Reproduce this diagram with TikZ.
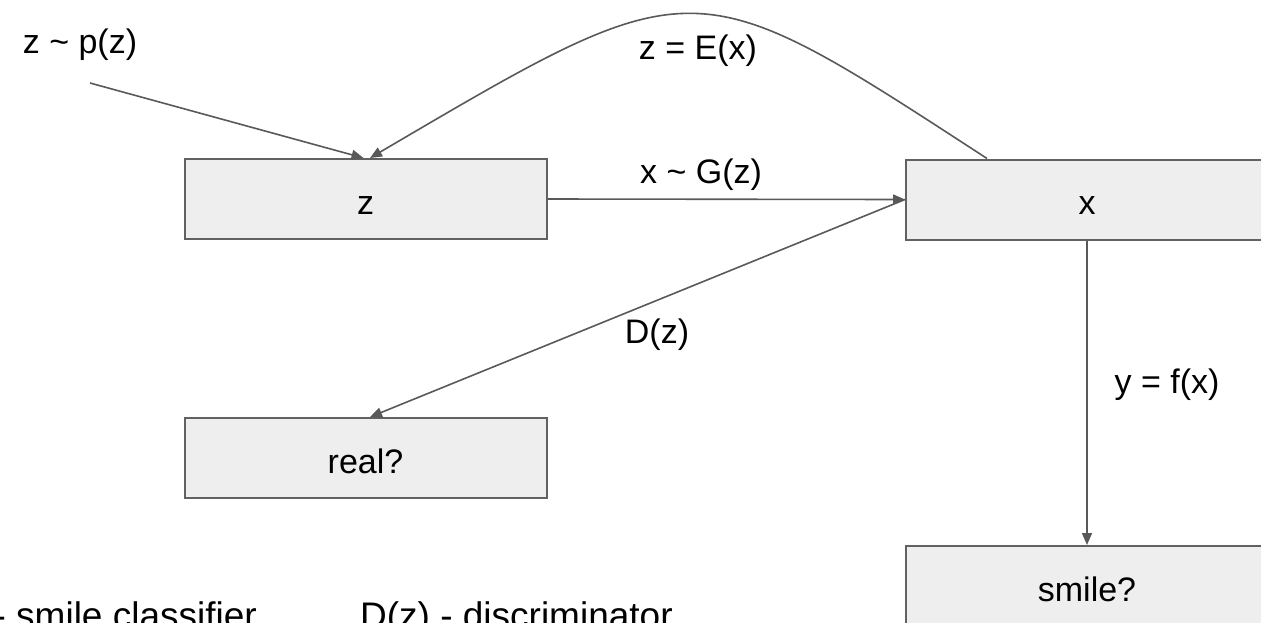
\documentclass[tikz,border=0pt]{standalone}
\usepackage{fontspec}
\setmainfont{Liberation Sans}
\usetikzlibrary{arrows.meta}
\definecolor{boxfill}{HTML}{EEEEEE}
\definecolor{boxline}{HTML}{616161}
\definecolor{wire}{HTML}{595959}
\newcommand\biglabel{\fontsize{34}{40}\selectfont}
\newcommand\notelabel{\fontsize{37}{44}\selectfont}
\begin{document}
\begin{tikzpicture}[x=1pt,y=-1pt,
  box/.style={draw=boxline, line width=2pt, fill=boxfill,
    minimum width=362pt, minimum height=80pt, inner sep=0pt,
    text height=30pt, text depth=0pt, font=\biglabel},
  lbl/.style={inner sep=0pt, anchor=base, font=\biglabel},
  note/.style={inner sep=0pt, font=\notelabel},
  link/.style={draw=wire, line width=1.6pt, -{Triangle[length=12pt,width=10pt]}}
]
\useasboundingbox (0,0) rectangle (1261,622);
\clip (0,0) rectangle (1261,622);

% boxes
\node[box] (zb) at (365.5,199) {z};
\node[box] (xb) at (1087,199.5) {x};
\node[box] (rb) at (365.5,458) {real?};
\node[box] (sb) at (1087,586) {smile?};

% labels
\node[lbl] (pz) at (80,53) {z \textasciitilde{} p(z)};
\node[lbl] (ex) at (698,59) {z = E(x)};
\node[lbl] (gz) at (701,183) {x \textasciitilde{} G(z)};
\node[lbl] (dz) at (657,343) {D(z)};
\node[lbl] (fx) at (1167,393) {y = f(x)};

% legend along the lower edge
\node[note, anchor=base east] (fnote) at (257,628) {- smile classifier};
\node[note, anchor=base west] (dnote) at (360,628) {D(z) - discriminator};

% connectors
\coordinate (pzstart) at (90,83);
\draw[link] (pzstart) -- ([xshift=-2pt]zb.north);
\draw[link] ([xshift=82pt]xb.north west) .. controls (691,-34) and (697,-34) .. ([xshift=4.5pt]zb.north);
\draw[link] (zb.east) -- (xb.west);
\draw[link] (xb.west) -- ([xshift=4.5pt]rb.north);
\draw[link] (xb.south) -- (sb.north);
\end{tikzpicture}
\end{document}
